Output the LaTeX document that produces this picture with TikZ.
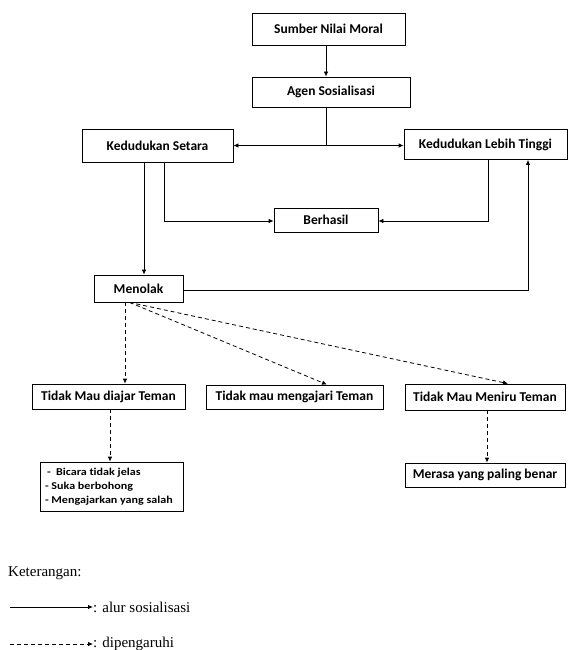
\documentclass[tikz,border=0pt]{standalone}
\usepackage{fontspec}
\setmainfont{Liberation Serif}
\newfontfamily\boxfont[Ligatures=NoCommon]{Carlito}
\newfontfamily\listfont[FakeStretch=1.15,Ligatures=NoCommon]{Carlito}
\usetikzlibrary{arrows.meta}
\tikzset{
  box/.style={draw=black, line width=0.8pt, inner sep=0pt, font=\boxfont\bfseries\fontsize{13.5}{16}\selectfont},
  arr/.style={line width=0.8pt, -{Latex[length=5pt,width=4.5pt]}},
  darr/.style={line width=0.8pt, dash pattern=on 4pt off 3pt, -{Latex[length=5pt,width=4.5pt]}},
  legtext/.style={anchor=west, inner sep=0pt, font=\fontsize{15}{17}\selectfont}
}
\begin{document}
\begin{tikzpicture}[x=1pt,y=-1pt]
\useasboundingbox (0,0) rectangle (569,650);
% boxes
\node[box, minimum width=153pt, minimum height=32pt] (sumber) at (328.5,29) {Sumber Nilai Moral};
\node[box, minimum width=158pt, minimum height=30pt] (agen) at (331,92) {Agen Sosialisasi};
\node[box, minimum width=151pt, minimum height=33pt] (setara) at (157.5,145.5) {Kedudukan Setara};
\node[box, minimum width=163pt, minimum height=30pt] (tinggi) at (485.5,144.5) {Kedudukan Lebih Tinggi};
\node[box, minimum width=104pt, minimum height=24pt] (berhasil) at (326,220) {Berhasil};
\node[box, minimum width=89pt, minimum height=27pt] (menolak) at (138.5,288.5) {Menolak};
\node[box, minimum width=153pt, minimum height=25pt] (diajar) at (108.5,396.5) {Tidak Mau diajar Teman};
\node[box, minimum width=177pt, minimum height=24pt] (mengajari) at (294.5,397) {Tidak mau mengajari Teman};
\node[box, minimum width=160pt, minimum height=26pt] (meniru) at (485,397) {Tidak Mau Meniru Teman};
\node[box, minimum width=160pt, minimum height=24pt] (merasa) at (485,475) {Merasa yang paling benar};
\node[box, minimum width=143pt, minimum height=49pt, font=\listfont\bfseries\fontsize{10.5}{14}\selectfont, align=left] (list) at (111.5,486.5)
  {\makebox[133pt][l]{\hspace{2pt}-\ \ Bicara tidak jelas}\\ \makebox[133pt][l]{- Suka berbohong}\\ \makebox[133pt][l]{- Mengajarkan yang salah}};
% solid connectors
\draw[arr] ([xshift=-2.5pt]sumber.south) -- ([xshift=-2.5pt]sumber.south |- agen.north);
\coordinate (j) at ([xshift=-5pt]agen.south |- setara.east);
\draw[line width=0.8pt] ([xshift=-5pt]agen.south) -- (j);
\draw[arr] (j) -- (setara.east);
\draw[arr] (j) -- (j -| tinggi.west);
\draw[arr] ([xshift=6.5pt]setara.south) |- ([yshift=-1pt]berhasil.west);
\draw[arr] ([xshift=2.5pt]tinggi.south) |- ([yshift=-1pt]berhasil.east);
\draw[arr] ([xshift=-13.5pt]setara.south) -- ([xshift=-13.5pt]setara.south |- menolak.north);
\draw[arr] ([yshift=-1.5pt]menolak.east) -| ([xshift=42.5pt]tinggi.south);
% dashed connectors
\draw[darr] ([xshift=-13.5pt]menolak.south) -- ([xshift=-13.5pt]menolak.south |- diajar.north);
\draw[darr] ([xshift=-9pt]menolak.south) -- ([xshift=32.5pt]mengajari.north);
\draw[darr] ([xshift=-9pt]menolak.south) -- ([xshift=23pt]meniru.north);
\draw[darr] ([xshift=1.5pt]diajar.south) -- ([xshift=1.5pt]diajar.south |- list.north);
\draw[darr] ([xshift=2pt]meniru.south) -- ([xshift=2pt]meniru.south |- merasa.north);
% legend
\node[legtext] (ket) at (8,573) {Keterangan:};
\coordinate (la) at (10,607);
\node[legtext] (lt1) at (93,607) {: alur sosialisasi};
\draw[arr] (la) -- (lt1.west);
\coordinate (lb) at (10,644);
\node[legtext] (lt2) at (93,644) {: dipengaruhi};
\draw[darr] (lb) -- (lt2.west);
\end{tikzpicture}
\end{document}
